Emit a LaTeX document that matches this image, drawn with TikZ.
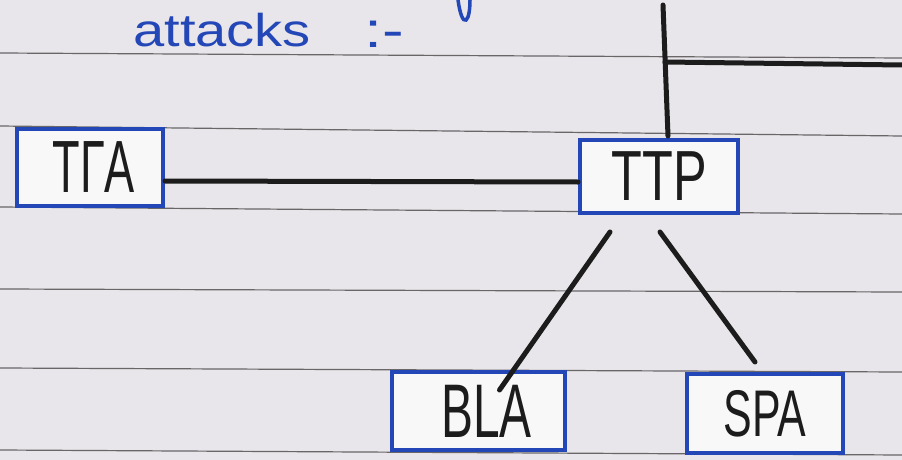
\documentclass[tikz,border=0pt]{standalone}
\usepackage{fontspec}
\setmainfont{Liberation Sans}
\usetikzlibrary{calc}
\definecolor{paper}{HTML}{E8E6EA}
\definecolor{rule}{HTML}{6A6668}
\definecolor{ink}{HTML}{2447B8}
\definecolor{pen}{HTML}{1C1C1C}
\tikzset{
  box/.style={draw=ink, line width=4pt, fill=white!70!paper, inner sep=0pt, text=pen},
  wire/.style={draw=pen, line width=5pt, line cap=round},
  ruleline/.style={draw=rule, line width=1.2pt},
}
\newcommand{\hw}[3]{\scalebox{#2}[1]{\fontsize{#1}{#1}\selectfont #3}}
\begin{document}
\begin{tikzpicture}[x=1pt,y=-1pt]
\useasboundingbox (0,0) rectangle (902,460);
\fill[paper] (0,0) rectangle (902,460);
% ruled paper lines
\draw[ruleline] (0,53) -- (902,58);
\draw[ruleline] (0,126) -- (902,136);
\draw[ruleline] (0,207) -- (902,214);
\draw[ruleline] (0,289) -- (902,292);
\draw[ruleline] (0,368) -- (902,372);
\draw[ruleline] (0,450) -- (902,455);
% heading
\node[anchor=base west, text=ink, inner sep=0pt] (att) at (133,47) {\hw{46}{1.22}{attacks}};
\node[anchor=base west, text=ink, inner sep=0pt] (sep) at (364,48) {\hw{50}{1.3}{:-}};
\draw[ink, line width=3.5pt, line cap=round] (458,0) .. controls (460,14) and (463,22) .. (466,20) .. controls (469,18) and (470,8) .. (470,0);
% boxes
\node[box, minimum width=146pt, minimum height=77pt] (TTA) at (90,167.5) {\hw{74}{0.61}{\,TΓA}};
\node[box, minimum width=158pt, minimum height=73pt] (TTP) at (659,176.5) {\hw{71}{0.71}{TTP}};
\node[box, minimum width=173pt, minimum height=78pt] (BLA) at (478.5,411) {\hw{76}{0.63}{\,\,BLA}};
\node[box, minimum width=156pt, minimum height=79pt] (SPA) at (765,413.5) {\hw{66}{0.65}{SPA}};
% connector endpoints
\coordinate (top) at (663,5);
\coordinate (tee) at (665,62);
\coordinate (right) at (902,65);
\coordinate (b1) at ($(TTP.south)+(-49,17)$);
\coordinate (b2) at ($(BLA.north)+(21,20)$);
\coordinate (s1) at ($(TTP.south)+(1,17)$);
\coordinate (s2) at ($(SPA.north)+(-10,-10)$);
% connectors
\draw[wire] ($(TTA.east)+(0,13.5)$) -- ($(TTP.west)+(0,5.5)$);
\draw[wire] (top) -- ($(TTP.north)+(9,-2)$);
\draw[wire] (tee) -- (right);
\draw[wire] (b1) -- (b2);
\draw[wire] (s1) -- (s2);
\end{tikzpicture}
\end{document}
